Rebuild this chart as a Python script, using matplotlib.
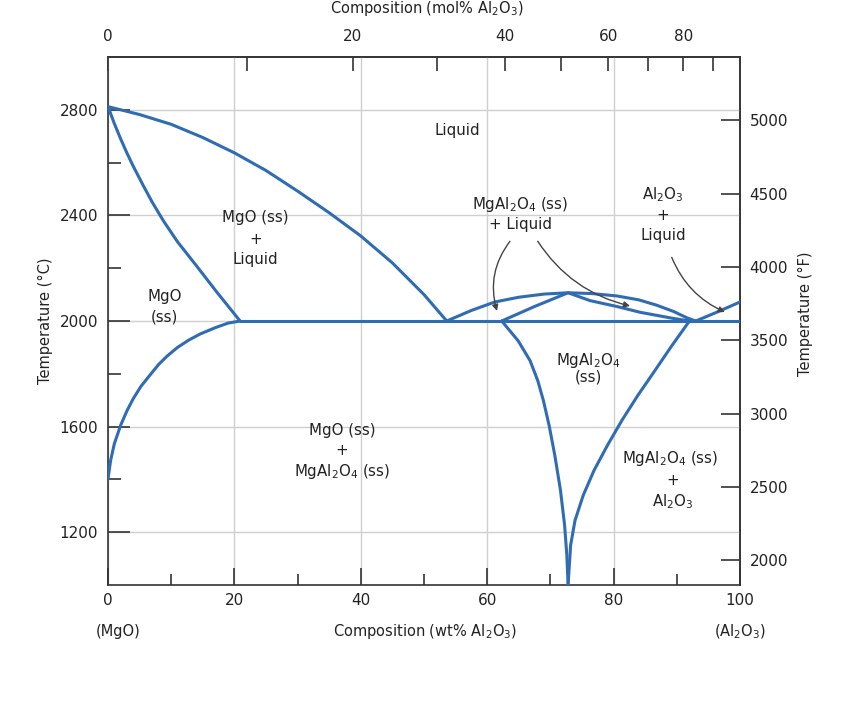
"""
MgO - Al2O3 phase diagram
"""
import numpy as np
import matplotlib
matplotlib.use("Agg")
import matplotlib.pyplot as plt
from matplotlib.ticker import FixedLocator

plt.rcParams['font.family'] = ['DejaVu Sans']
plt.rcParams['mathtext.default'] = 'regular'

# molar masses for the mol% axis
M_MGO = 40.30
M_AL2O3 = 101.96

# phase boundaries (wt% Al2O3, deg C)
mgo_liq_x = [0, 5, 10, 15, 20, 25, 30, 35, 40, 45, 50, 53.6]
mgo_liq_t = [2812, 2782, 2745, 2695, 2637, 2570, 2492, 2410, 2322, 2220, 2100, 2000]

mgo_sol_x = [0, 1, 2, 3, 4, 5.6, 7, 8.75, 11, 14, 17.2, 20.9]
mgo_sol_t = [2812, 2748, 2690, 2636, 2586, 2512, 2450, 2380, 2300, 2209, 2110, 2000]

mgo_solvus_x = [0, 0.4, 1.0, 2.0, 3.0, 4.0, 5.2, 6.6, 8.0, 9.3, 11.0, 12.8, 14.6, 17.0, 19.0, 20.9]
mgo_solvus_t = [1400, 1470, 1535, 1605, 1660, 1706, 1752, 1794, 1835, 1866, 1900, 1928, 1951, 1975, 1992, 2000]

eut_x = [20.9, 100]
eut_t = [2000, 2000]

sp_liq_x = [53.6, 57.5, 61.2, 65, 69, 72.8, 76.5, 80.5, 84, 86.8, 89.5, 91.6, 93]
sp_liq_t = [2000, 2040, 2072, 2090, 2102, 2107, 2104, 2095, 2080, 2060, 2036, 2012, 2000]

sp_sol_x = [62.3, 67.5, 72.8, 76.3, 80.5, 84.2, 89.4, 92.0]
sp_sol_t = [2000, 2055, 2107, 2077, 2055, 2033, 2010, 2000]

sp_solvus_l_x = [62.3, 64.9, 66.8, 68.0, 68.9, 69.8, 70.7, 71.6, 72.25, 72.6, 72.8]
sp_solvus_l_t = [2000, 1925, 1849, 1774, 1698, 1604, 1491, 1358, 1226, 1113, 1000]

sp_solvus_r_x = [92.0, 89.2, 86.5, 83.8, 81.3, 79.0, 76.9, 75.2, 73.9, 73.2, 72.8]
sp_solvus_r_t = [2000, 1906, 1811, 1717, 1623, 1528, 1434, 1340, 1245, 1151, 1000]

al_liq_x = [93, 96.5, 100]
al_liq_t = [2000, 2035, 2072]

boundaries = [
    (mgo_liq_x, mgo_liq_t), (mgo_sol_x, mgo_sol_t), (mgo_solvus_x, mgo_solvus_t),
    (eut_x, eut_t), (sp_liq_x, sp_liq_t), (sp_sol_x, sp_sol_t),
    (sp_solvus_l_x, sp_solvus_l_t), (sp_solvus_r_x, sp_solvus_r_t), (al_liq_x, al_liq_t),
]

# ticks
wt_major = [0, 20, 40, 60, 80, 100]
wt_minor = [10, 30, 50, 70, 90]
c_major = [1200, 1600, 2000, 2400, 2800]
c_minor = [1400, 1800, 2200, 2600]
f_ticks = [2000, 2500, 3000, 3500, 4000, 4500, 5000]
mol_major = [0, 20, 40, 60, 80]
mol_minor = [10, 30, 50, 70, 90]


def wt_to_mol(w):
    w = np.asarray(w, float)
    a = w / M_AL2O3
    b = (100 - w) / M_MGO
    return 100 * a / (a + b)


def mol_to_wt(m):
    m = np.asarray(m, float)
    a = m * M_AL2O3
    b = (100 - m) * M_MGO
    return 100 * a / (a + b)


BLUE = '#2f6cb3'
DARK = '#333333'
TXT = '#222222'
TICK_FS = 11
LAB_FS = 10.5

fig = plt.figure(figsize=(8.44, 7.05), dpi=100)
ax = fig.add_axes([108 / 844, 1 - 585 / 705, 632 / 844, 528 / 705])

for x, t in boundaries:
    ax.plot(x, t, color=BLUE, lw=2.2, solid_capstyle='round', solid_joinstyle='round', zorder=3)

ax.set_xlim(0, 100)
ax.set_ylim(1000, 3000)

ax.xaxis.set_major_locator(FixedLocator(wt_major))
ax.xaxis.set_minor_locator(FixedLocator(wt_minor))
ax.yaxis.set_major_locator(FixedLocator(c_major))
ax.yaxis.set_minor_locator(FixedLocator(c_minor))
ax.grid(True, which='major', color='#cfcfcf', lw=1.0, zorder=0)

ax.tick_params(axis='both', which='both', direction='in', colors=DARK, labelcolor=TXT,
               labelsize=TICK_FS, width=1.2)
ax.tick_params(axis='y', which='major', length=16, pad=7)
ax.tick_params(axis='y', which='minor', length=9)
ax.tick_params(axis='x', which='major', length=12, pad=6)
ax.tick_params(axis='x', which='minor', length=8)
for s in ax.spines.values():
    s.set_color(DARK)
    s.set_linewidth(1.2)

ax.set_ylabel('Temperature (°C)', fontsize=LAB_FS, color=TXT)
ax.yaxis.set_label_coords(-0.087, 0.5)
ax.set_xlabel('Composition (wt% Al$_2$O$_3$)', fontsize=LAB_FS, color=TXT)
ax.xaxis.set_label_coords(0.502, -0.089)
ax.xaxis.label.set_va('center')
ax.text(0.016, -0.089, '(MgO)', transform=ax.transAxes, ha='center', va='center',
        fontsize=LAB_FS, color=TXT)
ax.text(1.0, -0.089, '(Al$_2$O$_3$)', transform=ax.transAxes, ha='center', va='center',
        fontsize=LAB_FS, color=TXT)

# right axis in Fahrenheit
secy = ax.secondary_yaxis('right', functions=(lambda c: c * 9 / 5 + 32, lambda f: (f - 32) * 5 / 9))
secy.yaxis.set_major_locator(FixedLocator(f_ticks))
secy.tick_params(direction='in', length=14, width=1.2, colors=DARK, labelcolor=TXT,
                 labelsize=TICK_FS, pad=7)
secy.spines['right'].set_color(DARK)
secy.spines['right'].set_linewidth(1.2)
fig.text(805 / 844, 1 - 314 / 705, 'Temperature (°F)', rotation=90, ha='center', va='center',
         fontsize=LAB_FS, color=TXT)

# top axis in mol%
secx = ax.secondary_xaxis('top', functions=(wt_to_mol, mol_to_wt))
secx.xaxis.set_major_locator(FixedLocator(mol_major))
secx.xaxis.set_minor_locator(FixedLocator(mol_minor))
secx.tick_params(which='both', direction='in', length=10, width=1.2, colors=DARK,
                 labelcolor=TXT, labelsize=TICK_FS, pad=9)
secx.spines['top'].set_color(DARK)
secx.spines['top'].set_linewidth(1.2)
fig.text(427 / 844, 1 - 8 / 705, 'Composition (mol% Al$_2$O$_3$)', ha='center', va='center',
         fontsize=LAB_FS, color=TXT)

# phase field labels
fs = 10.8
labels = [
    (55.2, 2721, 'Liquid'),
    (65.2, 2441, 'MgAl$_2$O$_4$ (ss)'),
    (65.3, 2366, '+ Liquid'),
    (87.8, 2479, 'Al$_2$O$_3$'),
    (87.8, 2400, '+'),
    (87.8, 2325, 'Liquid'),
    (23.3, 2392, 'MgO (ss)'),
    (23.4, 2309, '+'),
    (23.3, 2234, 'Liquid'),
    (9.0, 2094, 'MgO'),
    (9.0, 2015, '(ss)'),
    (76.0, 1849, 'MgAl$_2$O$_4$'),
    (76.0, 1789, '(ss)'),
    (88.9, 1479, 'MgAl$_2$O$_4$ (ss)'),
    (89.3, 1396, '+'),
    (89.3, 1317, 'Al$_2$O$_3$'),
    (37.0, 1585, 'MgO (ss)'),
    (37.0, 1509, '+'),
    (37.0, 1430, 'MgAl$_2$O$_4$ (ss)'),
]
for x, t, s in labels:
    ax.text(x, t, s, ha='center', va='center', fontsize=fs, color=TXT, zorder=4)

# arrows
arrows = [
    ((63.6, 2302), (61.55, 2038), 0.25),
    ((68.0, 2302), (82.6, 2057), 0.2),
    ((89.2, 2241), (97.6, 2034), 0.2),
]
for start, end, rad in arrows:
    ax.annotate('', xy=end, xytext=start,
                arrowprops=dict(arrowstyle='-|>', color='#444444', lw=1.0,
                                mutation_scale=9, shrinkA=0, shrinkB=0,
                                connectionstyle=f'arc3,rad={rad}'), zorder=5)

fig.savefig('out.png', dpi=100, facecolor='white')
